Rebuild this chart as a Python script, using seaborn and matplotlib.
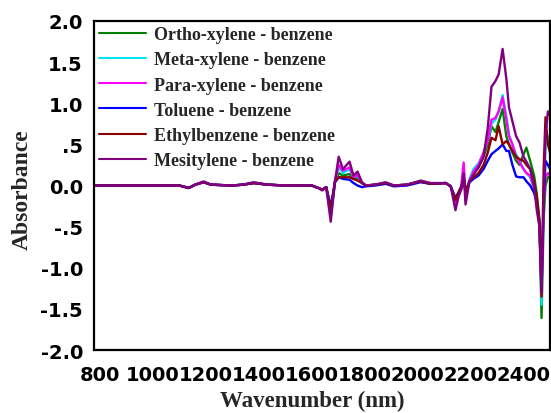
import numpy as np
import pandas as pd
import matplotlib
matplotlib.use("Agg")
import matplotlib.pyplot as plt
import seaborn as sns

# Wavelength grid (nm) and difference spectra (absorbance) for each solvent vs benzene
wavelength = [780, 900, 1000, 1100, 1136, 1160, 1192, 1220, 1300, 1340, 1381, 1434, 1500,
              1600, 1625, 1640, 1655, 1672, 1688, 1702, 1718, 1743, 1758, 1773, 1790, 1805,
              1840, 1879, 1910, 1960, 2011, 2050, 2106, 2125, 2143, 2155, 2165, 2174, 2181,
              2196, 2211, 2230, 2249, 2265, 2279, 2294, 2306, 2321, 2335, 2345, 2358, 2372,
              2385, 2400, 2411, 2425, 2440, 2450, 2460, 2468, 2476, 2483, 2492, 2500]

ortho_xylene = [0, 0, 0, 0, -0.03, 0.01, 0.04, 0.01, 0, 0.01, 0.03, 0.01, 0,
                0, -0.03, -0.05, -0.02, -0.35, 0.04, 0.15, 0.12, 0.14, 0.08, 0.09, 0.03, 0.0,
                0.01, 0.03, 0.0, 0.01, 0.05, 0.02, 0.03, -0.01, -0.2, -0.1, -0.03, 0.12, -0.1,
                0.05, 0.15, 0.22, 0.35, 0.5, 0.72, 0.65, 0.77, 0.93, 0.6, 0.5, 0.4, 0.3,
                0.25, 0.38, 0.46, 0.3, 0.12, -0.1, -0.4, -1.61, -0.4, 0.0, 0.1, 0.1]

meta_xylene = [0, 0, 0, 0, -0.03, 0.01, 0.04, 0.01, 0, 0.01, 0.03, 0.01, 0,
               0, -0.03, -0.05, -0.02, -0.38, 0.05, 0.22, 0.15, 0.2, 0.1, 0.12, 0.03, 0.0,
               0.01, 0.03, 0.0, 0.01, 0.05, 0.02, 0.03, -0.01, -0.2, -0.1, -0.02, 0.15, -0.1,
               0.08, 0.2, 0.27, 0.4, 0.55, 0.75, 0.8, 0.9, 1.1, 0.85, 0.62, 0.5, 0.38,
               0.3, 0.2, 0.15, 0.1, -0.05, -0.2, -0.5, -1.45, -0.3, 0.5, 0.6, 0.45]

para_xylene = [0, 0, 0, 0, -0.03, 0.01, 0.04, 0.01, 0, 0.01, 0.03, 0.01, 0,
               0, -0.03, -0.05, -0.02, -0.35, 0.05, 0.25, 0.18, 0.22, 0.1, 0.13, 0.03, 0.0,
               0.01, 0.03, 0.0, 0.01, 0.05, 0.02, 0.03, -0.01, -0.22, -0.1, 0.0, 0.28, -0.12,
               0.06, 0.17, 0.25, 0.4, 0.55, 0.8, 0.82, 0.9, 1.07, 0.8, 0.6, 0.5, 0.35,
               0.28, 0.2, 0.15, 0.12, -0.03, -0.2, -0.45, -1.3, -0.2, 0.1, 0.15, 0.12]

toluene = [0, 0, 0, 0, -0.03, 0.01, 0.04, 0.01, 0, 0.01, 0.03, 0.01, 0,
           0, -0.03, -0.05, -0.02, -0.25, 0.04, 0.1, 0.08, 0.07, 0.03, 0.0, -0.02, -0.01,
           0.0, 0.02, -0.01, 0.0, 0.04, 0.02, 0.03, -0.01, -0.15, -0.08, -0.02, 0.08, -0.07,
           0.04, 0.08, 0.12, 0.2, 0.3, 0.38, 0.42, 0.45, 0.5, 0.42, 0.42, 0.25, 0.11,
           0.1, 0.1, 0.05, 0.0, -0.09, -0.2, -0.45, -1.2, -0.2, 0.3, 0.25, 0.2]

ethylbenzene = [0, 0, 0, 0, -0.03, 0.01, 0.04, 0.01, 0, 0.01, 0.03, 0.01, 0,
                0, -0.03, -0.05, -0.02, -0.3, 0.05, 0.1, 0.1, 0.1, 0.08, 0.06, 0.03, 0.0,
                0.01, 0.03, 0.0, 0.01, 0.05, 0.02, 0.03, -0.01, -0.18, -0.08, -0.02, 0.1, -0.08,
                0.05, 0.1, 0.15, 0.25, 0.4, 0.58, 0.55, 0.72, 0.5, 0.54, 0.5, 0.42, 0.35,
                0.32, 0.3, 0.25, 0.2, 0.05, -0.15, -0.45, -1.35, 0.2, 0.83, 0.5, 0.4]

mesitylene = [0, 0, 0, 0, -0.03, 0.01, 0.05, 0.01, 0, 0.01, 0.04, 0.01, 0,
              0, -0.03, -0.06, -0.02, -0.44, 0.05, 0.35, 0.2, 0.29, 0.12, 0.17, 0.04, 0.0,
              0.01, 0.04, 0.0, 0.01, 0.06, 0.03, 0.03, -0.01, -0.3, -0.13, -0.05, 0.15, -0.23,
              0.05, 0.13, 0.22, 0.35, 0.7, 1.2, 1.27, 1.35, 1.66, 1.3, 0.95, 0.78, 0.6,
              0.52, 0.35, 0.29, 0.2, -0.01, -0.3, -0.5, -1.3, -0.2, 0.6, 0.9, 0.85]

series_names = ["Ortho-xylene - benzene", "Meta-xylene - benzene", "Para-xylene - benzene",
                "Toluene - benzene", "Ethylbenzene - benzene", "Mesitylene - benzene"]
series_values = [ortho_xylene, meta_xylene, para_xylene, toluene, ethylbenzene, mesitylene]
series_colors = ["#008000", "#00e5ee", "#ff00ff", "#0000ff", "#8b0000", "#800080"]

x_ticks = [800, 1000, 1200, 1400, 1600, 1800, 2000, 2200, 2400]
y_ticks = [-2.0, -1.5, -1.0, -0.5, 0.0, 0.5, 1.0, 1.5, 2.0]
y_tick_labels = ["-2.0", "-1.5", "-1.0", "-.5", "0.0", ".5", "1.0", "1.5", "2.0"]

df = pd.concat(
    [pd.DataFrame({"Wavenumber": wavelength, "Absorbance": vals, "Series": name})
     for name, vals in zip(series_names, series_values)],
    ignore_index=True,
)

sns.set_style("white")
fig = plt.figure(figsize=(5.51, 4.14), dpi=100)
ax = fig.add_axes([0.1706, 0.152, 0.8276, 0.795])

sns.lineplot(data=df, x="Wavenumber", y="Absorbance", hue="Series",
             hue_order=series_names, palette=series_colors, linewidth=1.7,
             sort=False, estimator=None, ax=ax)

ax.set_xlim(778, 2500)
ax.set_ylim(-2.0, 2.0)
ax.set_xticks(x_ticks)
ax.set_xticklabels([str(t) for t in x_ticks])
ax.set_yticks(y_ticks)
ax.set_yticklabels(y_tick_labels)

for lab in ax.get_xticklabels() + ax.get_yticklabels():
    lab.set_fontfamily("DejaVu Sans")
    lab.set_fontweight("bold")
    lab.set_fontsize(14)

ax.tick_params(axis="both", direction="in", length=5, width=1.5, colors="black")
ax.tick_params(axis="x", pad=11)
ax.tick_params(axis="y", pad=8)
for s in ax.spines.values():
    s.set_linewidth(1.6)
    s.set_color("black")

ax.set_xlabel("Wavenumber (nm)", fontfamily="Liberation Serif", fontweight="bold",
              fontsize=16.5)
ax.set_ylabel("Absorbance", fontfamily="Liberation Serif", fontweight="bold",
              fontsize=17)
ax.xaxis.set_label_coords(0.478, -0.12)
ax.yaxis.set_label_coords(-0.135, 0.49)

leg = ax.legend(loc="upper left", bbox_to_anchor=(0.0, 1.0), frameon=False,
                prop={"family": "Liberation Serif", "weight": "bold", "size": 13},
                handlelength=2.6, handletextpad=0.4, labelspacing=0.45,
                borderaxespad=0.1, borderpad=0.2)
for line in leg.get_lines():
    line.set_linewidth(1.5)

fig.savefig("out.png", dpi=100)
